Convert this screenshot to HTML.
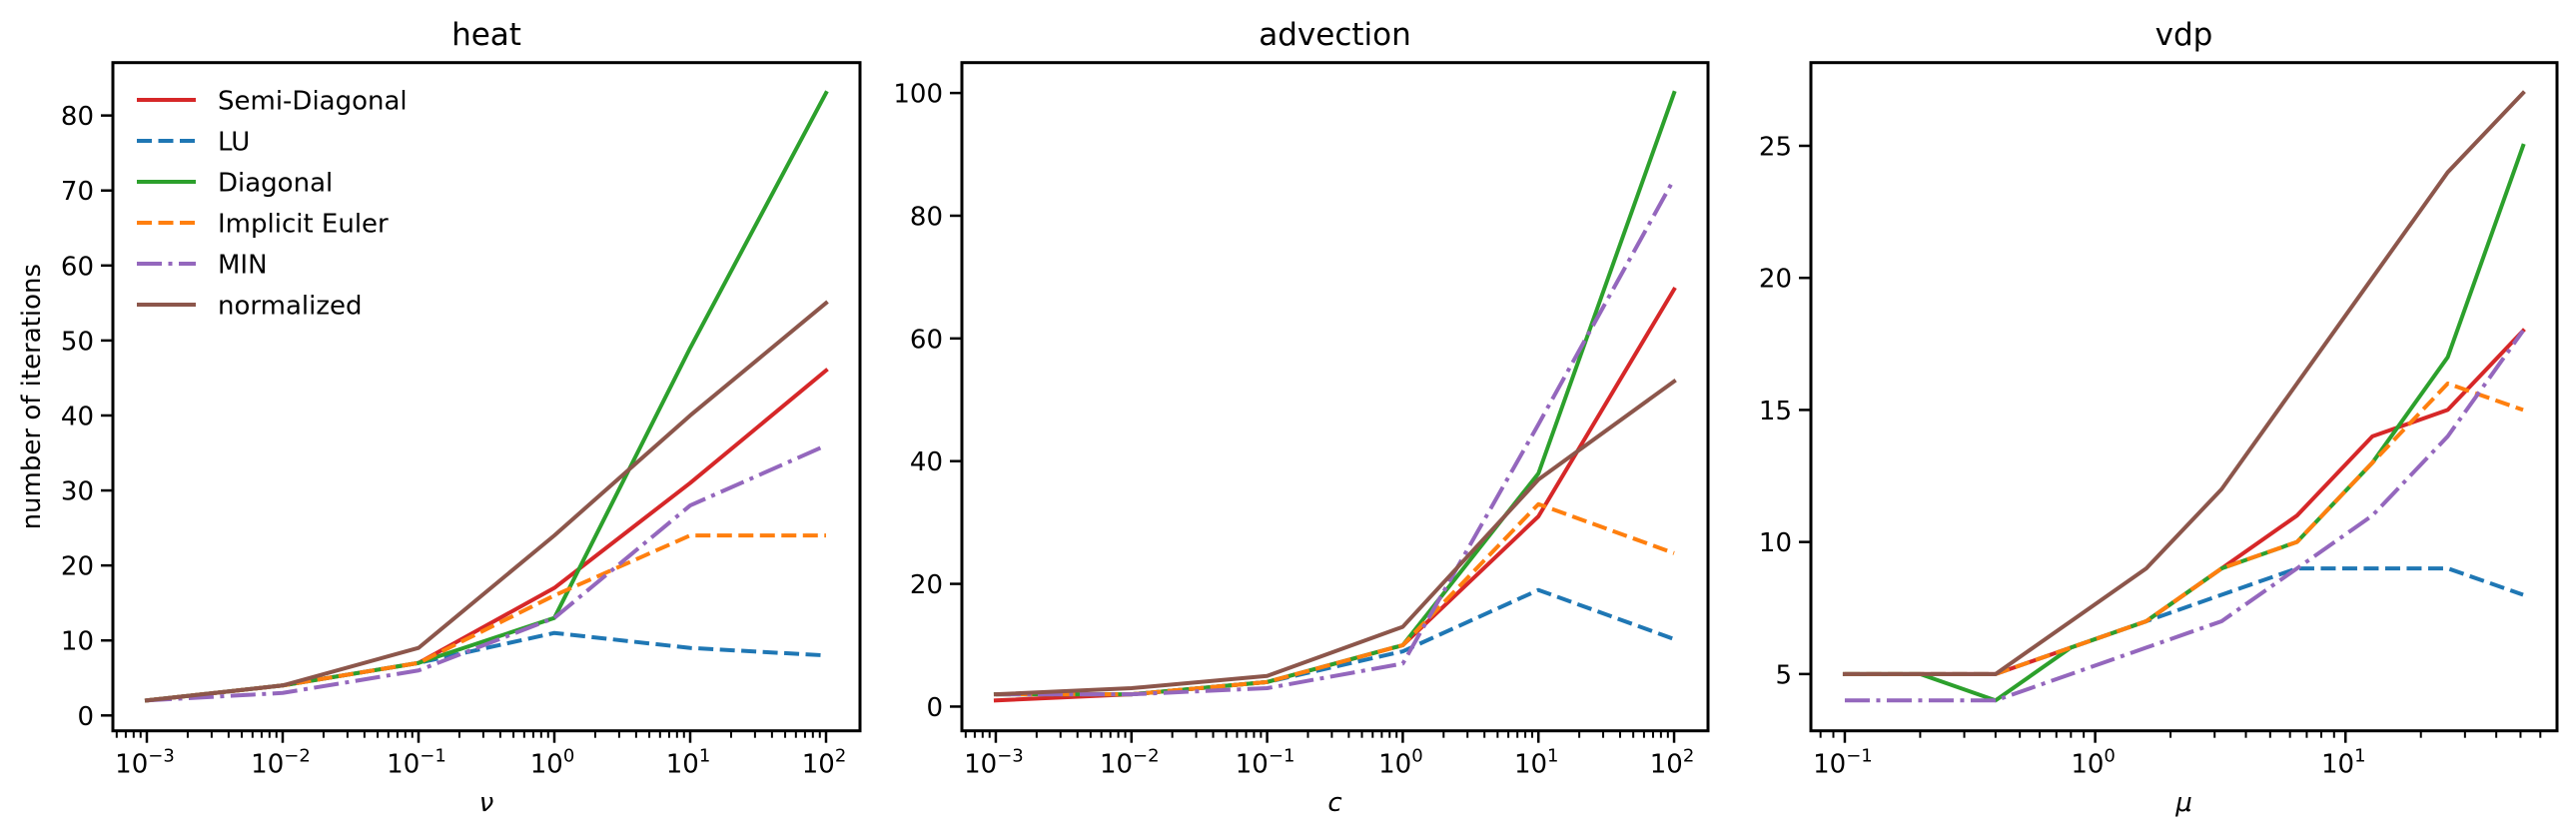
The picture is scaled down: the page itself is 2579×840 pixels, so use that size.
<!DOCTYPE html>
<html><head><meta charset="utf-8"><style>
html,body{margin:0;padding:0;background:#fff}
svg{display:block;font-family:"DejaVu Sans","Liberation Sans",sans-serif}
</style></head><body>
<svg id="fig" width="2579" height="840" xmlns="http://www.w3.org/2000/svg"></svg>
<script>
const heatX=[1e-3,1e-2,1e-1,1,10,100];
const heatSemi=[2,4,7,17,31,46];
const heatLU=[2,4,7,11,9,8];
const heatDiag=[2,4,7,13,49,83];
const heatIE=[2,4,7,16,24,24];
const heatMIN=[2,3,6,13,28,36];
const heatNorm=[2,4,9,24,40,55];
const heatYTicks=[0,10,20,30,40,50,60,70,80];

const advX=[1e-3,1e-2,1e-1,1,10,100];
const advSemi=[1,2,4,10,31,68];
const advLU=[2,2,4,9,19,11];
const advDiag=[2,2,4,10,38,100];
const advIE=[2,2,4,10,33,25];
const advMIN=[2,2,3,7,46,86];
const advNorm=[2,3,5,13,37,53];
const advYTicks=[0,20,40,60,80,100];

const vdpX=[0.1,0.2,0.4,0.8,1.6,3.2,6.4,12.8,25.6,51.2];
const vdpSemi=[5,5,5,6,7,9,11,14,15,18];
const vdpLU=[5,5,5,6,7,8,9,9,9,8];
const vdpDiag=[5,5,4,6,7,9,10,13,17,25];
const vdpIE=[5,5,5,6,7,9,10,13,16,15];
const vdpMIN=[4,4,4,5,6,7,9,11,14,18];
const vdpNorm=[5,5,5,7,9,12,16,20,24,27];
const vdpYTicks=[5,10,15,20,25];

const seriesNames=["Semi-Diagonal","LU","Diagonal","Implicit Euler","MIN","normalized"];
const NS="http://www.w3.org/2000/svg";
const svg=document.getElementById('fig');
const styles=[
 {c:"#d62728",d:null},{c:"#1f77b4",d:"15,6.5"},{c:"#2ca02c",d:null},
 {c:"#ff7f0e",d:"15,6.5"},{c:"#9467bd",d:"25,6.5,4,6.5"},{c:"#8c564b",d:null}];
function el(t,a,p){const e=document.createElementNS(NS,t);for(const k in a)e.setAttribute(k,a[k]);(p||svg).appendChild(e);return e;}
const TOP=62.7,BOT=731.7,FS=26;
function supLabel(g,x,y,exp,name){
  const t=el('text',{x:x,y:y,'text-anchor':'middle','font-size':FS,fill:'#000'},g);
  
  
  const a=document.createElementNS(NS,'tspan');a.textContent='10';t.appendChild(a);
  const b=document.createElementNS(NS,'tspan');b.setAttribute('dy','-11');b.setAttribute('font-size','18');b.textContent=exp;t.appendChild(b);
}
function panel(key,left,right,xs,ser,yticks,xlo,xhi,ylo,yhi,xMajor,title,xlab,ylab){
  const g=el('g',{});
  
  
  const lx0=Math.log10(xlo),lx1=Math.log10(xhi);
  const X=v=>left+(Math.log10(v)-lx0)/(lx1-lx0)*(right-left);
  const Y=v=>BOT-(v-ylo)/(yhi-ylo)*(BOT-TOP);
  ser.forEach((s,i)=>{
    const pts=xs.map((x,j)=>X(x).toFixed(2)+','+Y(s[j]).toFixed(2)).join(' ');
    const p=el('polyline',{points:pts,fill:'none',stroke:styles[i].c,'stroke-width':4,'stroke-linejoin':'round','stroke-linecap':styles[i].d?'butt':'square'},g);
    if(styles[i].d)p.setAttribute('stroke-dasharray',styles[i].d);
    
    
  });
  const fr=el('rect',{x:left,y:TOP,width:right-left,height:BOT-TOP,fill:'none',stroke:'#000','stroke-width':3},g);
  
  
  yticks.forEach(v=>{
    const y=Y(v);
    el('line',{x1:left,x2:left-12,y1:y,y2:y,stroke:'#000','stroke-width':2.5},g);
    const t=el('text',{x:left-19,y:y+9.5,'text-anchor':'end','font-size':FS,fill:'#000'},g);
    t.textContent=v;
    
    
  });
  for(let e=Math.floor(lx0);e<=Math.ceil(lx1);e++){
    for(let m=1;m<10;m++){
      const v=m*Math.pow(10,e);
      if(v<xlo||v>xhi)continue;
      const x=X(v);
      el('line',{x1:x,x2:x,y1:BOT,y2:BOT+(m===1?12:7),stroke:'#000','stroke-width':m===1?2.5:2},g);
    }
  }
  xMajor.forEach(e=>{supLabel(g,X(Math.pow(10,e))-2,BOT+42,e<0?'\u2212'+(-e):String(e),key+'-x-tick-label');});
  const tt=el('text',{x:(left+right)/2,y:45,'text-anchor':'middle','font-size':31,fill:'#000'},g);
  tt.textContent=title;
  
  
  const xl=el('text',{x:(left+right)/2,y:812,'text-anchor':'middle','font-size':FS,'font-style':'italic',fill:'#000'},g);
  xl.textContent=xlab;
  
  
  if(ylab){
    const yl=el('text',{x:0,y:0,'text-anchor':'middle','font-size':FS,fill:'#000',transform:'translate(40,'+((TOP+BOT)/2)+') rotate(-90)'},g);
    yl.textContent=ylab;
    
    
  }
}
const lm=Math.pow(10,0.25);
panel('heat',113,861,heatX,[heatSemi,heatLU,heatDiag,heatIE,heatMIN,heatNorm],heatYTicks,1e-3/lm,100*lm,-2.05,87.05,[-3,-2,-1,0,1,2],'heat','\u03bd','number of iterations');
panel('advection',963,1710,advX,[advSemi,advLU,advDiag,advIE,advMIN,advNorm],advYTicks,1e-3/lm,100*lm,-3.95,104.95,[-3,-2,-1,0,1,2],'advection','c',null);
const span=Math.log10(51.2)+1,mg=Math.pow(10,0.05*span);
panel('vdp',1813,2560,vdpX,[vdpSemi,vdpLU,vdpDiag,vdpIE,vdpMIN,vdpNorm],vdpYTicks,0.1/mg,51.2*mg,2.85,28.15,[-1,0,1],'vdp','\u03bc',null);
const lg=el('g',{});


seriesNames.forEach((n,i)=>{
  const y=100+i*41;
  const ln=el('line',{x1:137,x2:196,y1:y,y2:y,stroke:styles[i].c,'stroke-width':4},lg);
  if(styles[i].d)ln.setAttribute('stroke-dasharray',styles[i].d);
  const t=el('text',{x:218,y:y+9.5,'font-size':FS,fill:'#000'},lg);
  t.textContent=n;
  
  
});
</script>
</body></html>
